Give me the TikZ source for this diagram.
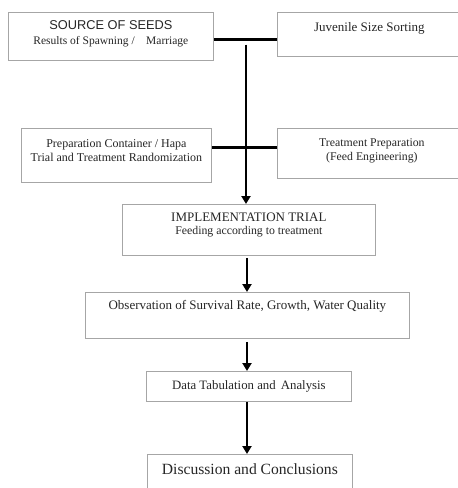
\documentclass[tikz,border=0pt]{standalone}
\usepackage{fontspec}
\setmainfont{Liberation Serif}
\setsansfont{Liberation Sans}
\usetikzlibrary{arrows.meta}
\tikzset{
  box/.style={draw=gray!70, line width=0.8pt, inner sep=0pt, anchor=north west, fill=white, text=black!85},
  conn/.style={line width=2.6pt, black},
  arr/.style={conn, -{Triangle[width=9pt,length=8pt]}}
}
\begin{document}
\begin{tikzpicture}[x=1pt,y=-1pt]
\clip (0,0) rectangle (458,488);
\fill[white] (0,0) rectangle (458,488);
% boxes
\node[box] (b1) at (8,12) {\parbox[t][48pt][t]{205pt}{\centering\fontsize{12.8}{15}\selectfont\sffamily\rule{0pt}{17.3pt}SOURCE OF SEEDS\\ \rmfamily\fontsize{11.5}{15}\selectfont Results of Spawning /\hspace{1em}Marriage}};
\node[box] (b2) at (277,12) {\parbox[t][44pt][t]{184pt}{\centering\fontsize{13}{15}\selectfont\rule{0pt}{18.7pt}Juvenile Size Sorting}};
\node[box] (b3) at (21,128) {\parbox[t][54pt][t]{190pt}{\centering\fontsize{12}{13.5}\selectfont\rule{0pt}{19.3pt}Preparation Container / Hapa\\ Trial and Treatment Randomization}};
\node[box] (b4) at (277,128) {\parbox[t][50pt][t]{189pt}{\centering\fontsize{11.8}{14}\selectfont\rule{0pt}{18pt}Treatment Preparation\\ (Feed Engineering)}};
\node[box] (b5) at (122,204) {\parbox[t][51pt][t]{253pt}{\centering\fontsize{13}{13.5}\selectfont\rule{0pt}{17pt}IMPLEMENTATION TRIAL\\ \fontsize{11.8}{13.5}\selectfont Feeding according to treatment}};
\node[box] (b6) at (85,292) {\parbox[t][46pt][t]{324pt}{\centering\fontsize{13}{15}\selectfont\rule{0pt}{17pt}Observation of Survival Rate, Growth, Water Quality}};
\node[box] (b7) at (146,371) {\parbox[t][30pt][t]{205pt}{\centering\fontsize{12.8}{15}\selectfont\rule{0pt}{18pt}Data Tabulation and\hspace{0.4em}Analysis}};
\node[box] (b8) at (147,454) {\parbox[t][46pt][t]{205pt}{\centering\fontsize{15.6}{18}\selectfont\rule{0pt}{20pt}Discussion and Conclusions}};
% junction coordinates
\coordinate (j1) at (246,39.5);
\coordinate (v0) at (246,44.5);
\coordinate (j2) at (247,147.3);
\coordinate (c) at (247,0);
% connectors
\draw[conn] (b1.east |- j1) -- (b2.west |- j1);
\draw[conn] (b3.east |- j2) -- (b4.west |- j2);
\draw[arr] (v0) -- (v0 |- b5.north);
\draw[arr, shorten <=2pt] (b5.south -| c) -- (b6.north -| c);
\draw[arr, shorten <=3pt] (b6.south -| c) -- (b7.north -| c);
\draw[arr] (b7.south -| c) -- (b8.north -| c);
\end{tikzpicture}
\end{document}
